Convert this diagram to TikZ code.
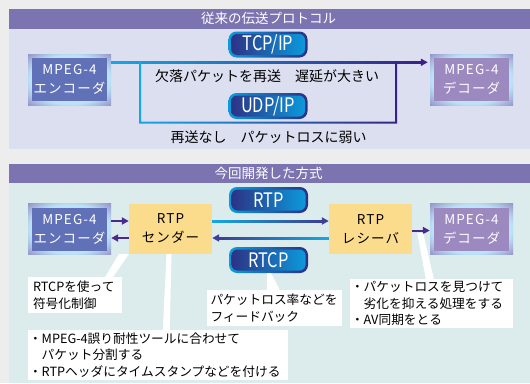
\documentclass[tikz,border=0pt]{standalone}
\usepackage{fontspec}
\usepackage{graphicx}
\setmainfont{Noto Sans CJK JP}
\usetikzlibrary{arrows.meta,calc}
\definecolor{bgc}{HTML}{EDEDED}
\definecolor{barc}{HTML}{7C74B0}
\definecolor{bodyA}{HTML}{DCDFF0}
\definecolor{bodyB}{HTML}{DCEBEB}
\definecolor{encc}{HTML}{6171B7}
\definecolor{decc}{HTML}{9B89C0}
\definecolor{glowin}{HTML}{BCE2F6}
\definecolor{glowout}{HTML}{9290C6}
\definecolor{pillcy}{HTML}{0A9DDE}
\definecolor{pillnv}{HTML}{2E2F82}
\definecolor{linecy}{HTML}{14A8E4}
\definecolor{linepu}{HTML}{3A2285}
\definecolor{arrpu}{HTML}{4A2A8C}
\definecolor{arrnv}{HTML}{3B3F95}
\definecolor{rtpy}{HTML}{FBDB8C}
\pgfdeclareradialshading{glowsh}{\pgfpoint{0bp}{0bp}}{color(0bp)=(glowin); color(24bp)=(glowin); color(36bp)=(glowout); color(50bp)=(glowout)}
\newcommand\bxfont{\fontsize{13.5}{19}\selectfont\addfontfeature{LetterSpace=8}}
\newcommand\cofont{\fontsize{12.7}{16.5}\selectfont}
\begin{document}
\begin{tikzpicture}[x=1pt,y=-1pt,
  mbox/.style={shade, shading=glowsh, minimum width=83pt, minimum height=51pt, inner sep=0pt,
    text=white, align=center, font=\bxfont,
    path picture={\fill[#1] ([shift={(4pt,4pt)}]path picture bounding box.south west) rectangle ([shift={(-4pt,-4pt)}]path picture bounding box.north east);}},
  ybox/.style={fill=rtpy, minimum width=83pt, minimum height=50pt, inner sep=0pt, text=black, align=center, font=\bxfont},
  pill/.style={minimum width=79pt, minimum height=26pt, inner sep=0pt, rounded corners=8pt,
    left color=pillcy, right color=pillnv, text=white, font=\fontsize{20}{20}\selectfont,
    path picture={\shade[rounded corners=6pt, left color=pillnv, right color=pillcy] ([shift={(2.5pt,2.5pt)}]path picture bounding box.south west) rectangle ([shift={(-2.5pt,-2.5pt)}]path picture bounding box.north east);}},
  ttl/.style={text=white, font=\fontsize{13.5}{16}\selectfont, inner sep=0pt},
  lbl/.style={text=black, font=\fontsize{14}{16}\selectfont, inner sep=0pt},
  callout/.style={fill=white, inner ysep=0pt, align=left, font=\cofont, text=black},
  arr/.style={line width=2pt, -{Triangle[length=7pt,width=7pt]}},
  wedge/.style={fill=white}
]
\useasboundingbox (0,0) rectangle (530,383);
% backgrounds
\fill[bgc] (0,0) rectangle (530,383);
\fill[barc] (9,9) rectangle (530,28.5);
\fill[bodyA] (9,28.5) rectangle (530,149);
\fill[barc] (9,164) rectangle (530,183);
\fill[bodyB] (9,183) rectangle (530,383);
\node[ttl] (title1) at (268.5,18.5) {従来の伝送プロトコル};
\node[ttl] (title2) at (268.5,173.5) {今回開発した方式};

% ---- top panel ----
\node[mbox=encc] (enc1) at (69.5,79.5) {MPEG-4\\エンコーダ};
\node[mbox=decc] (dec1) at (471.5,79.5) {MPEG-4\\デコーダ};
\node[pill] (tcp) at (268,44.5) {\scalebox{0.82}[1]{TCP/IP}};
\node[pill] (udp) at (268,106) {\scalebox{0.82}[1]{UDP/IP}};
\node[lbl] (t1) at (267,76) {欠落パケットを再送　遅延が大きい};
\node[lbl] (t2) at (268.5,137) {再送なし　パケットロスに弱い};

\coordinate (la) at ($(enc1.north east)+(0,8.5)$);
\coordinate (lb) at ($(dec1.north west)+(-2,8.5)$);
\shade[left color=linecy, right color=linepu] ($(la)+(0,-1)$) rectangle ($(lb)+(-7,1)$);
\draw[arr, linepu] ($(lb)+(-8,0)$) -- (lb);
\coordinate (ul) at (140,62);
\coordinate (ur) at (396,122.5);
\shade[even odd rule, left color=linecy, right color=linepu]
  ($(ul)+(-1,-1)$) rectangle ($(ur)+(1,1)$)
  ($(ul)+(1,-1)$) rectangle ($(ur)+(-1,-1)$);

% ---- bottom panel ----
\node[mbox=encc] (enc2) at (69.5,229) {MPEG-4\\エンコーダ};
\node[mbox=decc] (dec2) at (471.5,229) {MPEG-4\\デコーダ};
\node[ybox] (snd) at (170.5,229) {RTP\\センダー};
\node[ybox] (rcv) at (370.5,229) {RTP\\レシーバ};
\node[pill] (rtp) at (268.5,200) {\scalebox{0.82}[1]{RTP}};
\node[pill] (rtcp) at (268.5,260) {\scalebox{0.82}[1]{RTCP}};

\draw[arr, arrpu] ([yshift=8pt]enc2.east) -- ([yshift=8pt]snd.west);
\draw[arr, arrpu] ([yshift=-9pt]snd.west) -- ([yshift=-9pt]enc2.east);
\shade[left color=linecy, right color=arrnv] ([yshift=9pt]snd.east) rectangle ([xshift=-6pt,yshift=7pt]rcv.west);
\draw[arr, arrnv] ([xshift=-8pt,yshift=8pt]rcv.west) -- ([yshift=8pt]rcv.west);
\shade[left color=arrnv, right color=linecy] ([xshift=6pt,yshift=-8pt]snd.east) rectangle ([yshift=-10pt]rcv.west);
\draw[arr, arrnv] ([xshift=8pt,yshift=-9pt]snd.east) -- ([yshift=-9pt]snd.east);
\draw[arr, arrpu] ([yshift=-1.5pt]rcv.east) -- ([yshift=-1.5pt]dec2.west);

% callouts
\node[callout, inner xsep=5pt, text width=84pt, minimum height=36pt] (c1) at (75,295) {RTCPを使って\\符号化制御};
\node[callout, inner xsep=1pt, text width=258pt, minimum height=50pt] (c2) at (158,355) {・MPEG-4誤り耐性ツールに合わせて\\　パケット分割する\\・RTPヘッダにタイムスタンプなどを付ける};
\node[callout, inner xsep=3.5pt, text width=128pt, minimum height=36pt] (c3) at (274.5,308) {パケットロス率などを\\フィードバック};
\node[callout, inner xsep=1pt, text width=161pt, minimum height=49pt] (c4) at (431.5,303.5) {・パケットロスを見つけて\\　劣化を抑える処理をする\\・AV同期をとる};

\fill[wedge] ([xshift=-17pt]c1.north east) -- ([xshift=-9pt]c1.north east) -- (snd.south west) -- ([xshift=-10pt]snd.south west) -- cycle;
\fill[wedge] ([xshift=135pt]c2.north west) -- ([xshift=142pt]c2.north west) -- ([xshift=1pt]snd.south) -- ([xshift=-4pt]snd.south) -- cycle;
\fill[wedge] ([xshift=-1.5pt]rtcp.south) -- ([xshift=2.5pt]rtcp.south) -- ([xshift=73pt]c3.north west) -- ([xshift=60pt]c3.north west) -- cycle;
\fill[wedge] ([xshift=5pt,yshift=-4pt]rcv.east) -- ([xshift=11pt,yshift=-4pt]rcv.east) -- ([xshift=84pt]c4.north west) -- ([xshift=76pt]c4.north west) -- cycle;
\end{tikzpicture}
\end{document}
